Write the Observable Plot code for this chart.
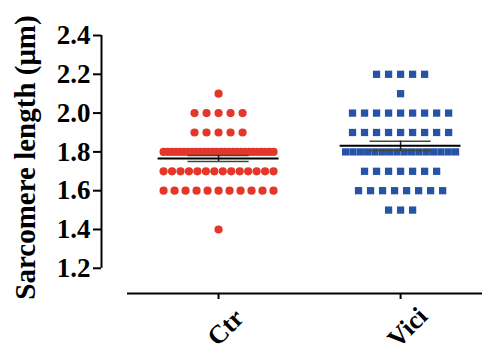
<!DOCTYPE html>
<html>
<head>
<meta charset="utf-8">
<script src="https://cdn.jsdelivr.net/npm/d3@7"></script>
<script src="https://cdn.jsdelivr.net/npm/@observablehq/plot@0.6"></script>
<style>
  html, body { margin: 0; padding: 0; background: #fff; overflow: hidden; }
  svg text, svg { font-family: "Liberation Serif", "Times New Roman", "DejaVu Serif", serif !important; }
</style>
</head>
<body>
<div id="chart"></div>
<script>
// ---- data ----
const groups = ["Ctr", "Vici"];
const levels = [1.4, 1.5, 1.6, 1.7, 1.8, 1.9, 2.0, 2.1, 2.2];
const ctrCounts  = [1, 0, 11, 14, 28, 5, 5, 1, 0];
const viciCounts = [0, 3, 8, 7, 16, 9, 9, 1, 5];
const yTicks = [1.2, 1.4, 1.6, 1.8, 2.0, 2.2, 2.4];
const yLabel = "Sarcomere length (μm)";
const colors = ["#e5362a", "#2553a6"];

// ---- layout helpers ----
const xDomain = [-0.643, 1.45];
const yDomain = [1.07, 2.4];
const maxStep = 0.066;   // max spacing between neighbours (x units)
const maxSpan = 0.604;   // max row width (x units)
const meanHalf = 0.332, semHalf = 0.168, xAxisStart = -0.5;

const counts = [ctrCounts, viciCounts];
const points = [];
groups.forEach((g, gi) => {
  levels.forEach((v, li) => {
    const n = counts[gi][li];
    if (!n) return;
    const step = n > 1 ? Math.min(maxStep, maxSpan / (n - 1)) : 0;
    for (let k = 0; k < n; k++) {
      points.push({group: g, gi, value: v, x: gi + (k - (n - 1) / 2) * step});
    }
  });
});

const stats = groups.map((g, gi) => {
  const vals = points.filter(p => p.gi === gi).map(p => p.value);
  const mean = d3.mean(vals);
  const sem = d3.deviation(vals) / Math.sqrt(vals.length);
  return {group: g, gi, mean, sem};
});

const font = "Liberation Serif";

const chart = Plot.plot({
  width: 482,
  height: 356,
  marginLeft: 101,
  marginRight: 0,
  marginTop: 35,
  marginBottom: 63,
  x: {domain: xDomain, axis: null},
  y: {domain: yDomain, axis: null},
  style: {background: "#fff", color: "#000"},
  marks: [
    // y axis
    Plot.ruleX([xDomain[0]], {y1: yTicks[0], y2: yTicks[yTicks.length - 1], stroke: "#000", strokeWidth: 2}),
    Plot.axisY({ticks: yTicks, tickSize: 8, tickPadding: 3, tickFormat: d3.format(".1f"),
      fontSize: 27, fontWeight: "bold", fontFamily: font, strokeWidth: 2, label: null, anchor: "left"}),
    // x axis
    Plot.ruleY([yDomain[0]], {x1: xAxisStart, x2: xDomain[1], stroke: "#000", strokeWidth: 2}),
    Plot.axisX({ticks: [0, 1], tickSize: 6, tickFormat: () => "", strokeWidth: 2, label: null, anchor: "bottom"}),
    Plot.text(groups, {x: (d, i) => i, y: yDomain[0], text: d => d, rotate: -45, dx: 7, dy: 34,
      fontSize: 26, fontWeight: "bold", fontFamily: font, textAnchor: "middle", fill: "#000"}),
    // y label
    Plot.text([yLabel], {frameAnchor: "left", text: d => d, rotate: -90, dx: -76, dy: -7,
      fontSize: 29, fontWeight: "bold", fontFamily: font, textAnchor: "middle", fill: "#000"}),
    // points
    Plot.dot(points.filter(p => p.gi === 0), {x: "x", y: "value", r: 4.1, fill: colors[0], symbol: "circle", stroke: "none"}),
    Plot.dot(points.filter(p => p.gi === 1), {x: "x", y: "value", r: 4.1, fill: colors[1], symbol: "square", stroke: "none"}),
    // mean and SEM
    Plot.ruleY(stats, {y: d => d.mean + d.sem, x1: d => d.gi - semHalf, x2: d => d.gi + semHalf, stroke: "#444", strokeWidth: 1.5}),
    Plot.ruleY(stats, {y: d => d.mean - d.sem, x1: d => d.gi - semHalf, x2: d => d.gi + semHalf, stroke: "#444", strokeWidth: 1.5}),
    Plot.ruleX(stats, {x: "gi", y1: d => d.mean - d.sem, y2: d => d.mean + d.sem, stroke: "#222", strokeWidth: 1.5}),
    Plot.ruleY(stats, {y: "mean", x1: d => d.gi - meanHalf, x2: d => d.gi + meanHalf, stroke: "#000", strokeWidth: 2})
  ]
});
document.getElementById("chart").appendChild(chart);
</script>
</body>
</html>
